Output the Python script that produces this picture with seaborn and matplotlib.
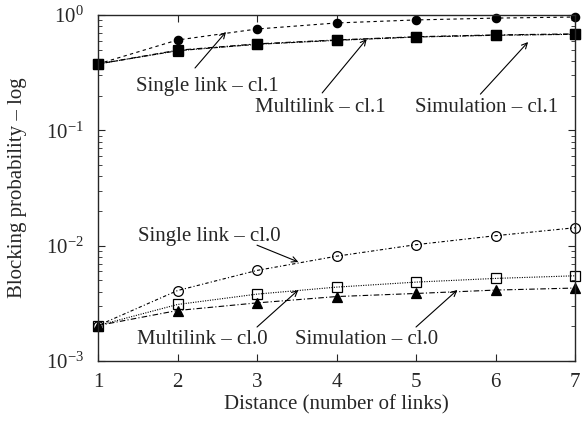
import numpy as np
import pandas as pd
import seaborn as sns
import matplotlib
matplotlib.use("Agg")
import matplotlib.pyplot as plt

distance = [1, 2, 3, 4, 5, 6, 7]

# class 1 (upper curves)
single_cl1 = [0.376, 0.607, 0.756, 0.853, 0.906, 0.94, 0.96]
multi_cl1 = [0.376, 0.49, 0.557, 0.603, 0.644, 0.667, 0.68]
sim_cl1 = [0.376, 0.495, 0.562, 0.608, 0.648, 0.672, 0.686]

# class 0 (lower curves)
single_cl0 = [0.00203, 0.00408, 0.0061, 0.0081, 0.0102, 0.0122, 0.0143]
multi_cl0 = [0.00203, 0.00309, 0.0038, 0.00437, 0.00483, 0.0052, 0.00548]
sim_cl0 = [0.00203, 0.00274, 0.00319, 0.00362, 0.00385, 0.00412, 0.00429]

series = {
    "Single link – cl.1": single_cl1,
    "Multilink – cl.1": multi_cl1,
    "Simulation – cl.1": sim_cl1,
    "Single link – cl.0": single_cl0,
    "Multilink – cl.0": multi_cl0,
    "Simulation – cl.0": sim_cl0,
}

rows = []
for name, vals in series.items():
    for d, v in zip(distance, vals):
        rows.append({"series": name, "distance": d, "blocking": v})
df = pd.DataFrame(rows)

sns.set_style("ticks")
plt.rcParams["font.family"] = ["Liberation Serif", "DejaVu Serif"]
plt.rcParams["mathtext.fontset"] = "custom"
plt.rcParams["mathtext.rm"] = "Liberation Serif"
plt.rcParams["mathtext.it"] = "Liberation Serif:italic"
fs = 15

styles = {
    "Single link – cl.1": dict(marker="o", ms=6, mfc="black", ls=(0, (3, 3))),
    "Multilink – cl.1": dict(marker="s", ms=7, mfc="black", ls=(0, (4, 1, 1, 1))),
    "Simulation – cl.1": dict(marker="s", ms=7, mfc="black", ls=(0, (5, 2, 1, 2))),
    "Single link – cl.0": dict(marker="o", ms=7, mfc="none", ls=(0, (3, 2, 1, 2))),
    "Multilink – cl.0": dict(marker="s", ms=7, mfc="none", ls=(0, (1, 1.2))),
    "Simulation – cl.0": dict(marker="^", ms=6.5, mfc="black", ls=(0, (5, 2, 1, 2))),
}

fig = plt.figure(figsize=(5.82, 4.26), dpi=100)
ax = fig.add_axes([0.1684, 0.1526, 0.8196, 0.8122])

for name, st in styles.items():
    sns.lineplot(data=df[df["series"] == name], x="distance", y="blocking",
                 ax=ax, color="black", lw=0.8, linestyle=st["ls"],
                 marker=st["marker"], markersize=st["ms"],
                 markerfacecolor=st["mfc"], markeredgecolor="black",
                 markeredgewidth=0.9, clip_on=False)

ax.set_yscale("log")
ax.set_xlim(1, 7)
ax.set_ylim(1e-3, 1)
ax.set_xticks(distance)
ax.tick_params(which="both", direction="in", top=True, right=True,
               labelsize=fs)
ax.tick_params(axis="x", pad=9)
ax.tick_params(axis="y", pad=10)
ax.tick_params(which="major", length=5)
ax.tick_params(which="minor", length=3)
ax.set_xlabel("Distance (number of links)", fontsize=fs, labelpad=2)
ax.set_ylabel("Blocking probability – log", fontsize=fs, labelpad=14)
for s in ax.spines.values():
    s.set_linewidth(1.0)

arrow = dict(arrowstyle="->", lw=0.8, color="black", shrinkA=0, shrinkB=0)
notes = [
    ("Single link – cl.1", (2.38, 0.242), (2.22, 0.347), (2.61, 0.713)),
    ("Multilink – cl.1", (3.80, 0.159), (3.82, 0.211), (4.38, 0.619)),
    ("Simulation – cl.1", (5.89, 0.159), (5.81, 0.206), (6.41, 0.583)),
    ("Single link – cl.0", (2.40, 0.0119), (3.0, 0.0101), (3.52, 0.00722)),
    ("Multilink – cl.0", (2.31, 0.00155), (3.0, 0.00197), (3.52, 0.00413)),
    ("Simulation – cl.0", (4.38, 0.00155), (5.0, 0.00197), (5.52, 0.00413)),
]
for label, txt, tail, head in notes:
    ax.text(txt[0], txt[1], label, ha="center", va="center", fontsize=fs)
    ax.annotate("", xy=head, xytext=tail, arrowprops=arrow)

fig.savefig("out.png", dpi=100)
